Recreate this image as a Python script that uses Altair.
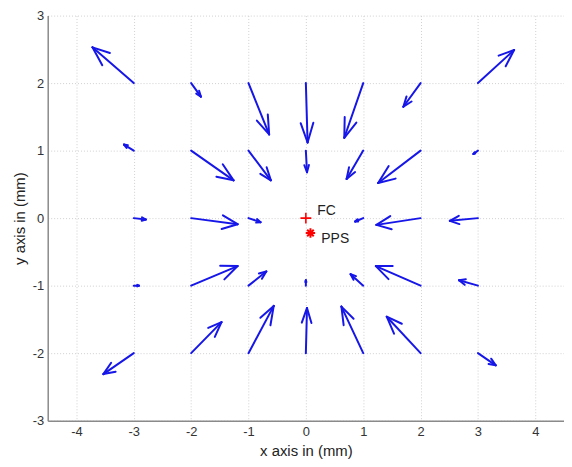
import altair as alt
import pandas as pd

# grid of arrow origins
grid_x = [-3, -2, -1, 0, 1, 2, 3]
grid_y = [2, 1, 0, -1, -2]

# arrow components (mm), one row per grid_y value, columns follow grid_x
u_rows = [
    [-0.72, 0.17, 0.36, 0.03, -0.33, -0.30, 0.63],
    [-0.17, 0.74, 0.39, 0.02, -0.29, -0.74, -0.08],
    [0.21, 0.81, 0.21, 0.00, -0.14, -0.77, -0.49],
    [0.09, 0.81, 0.31, 0.00, -0.22, -0.78, -0.33],
    [-0.53, 0.53, 0.44, 0.02, -0.38, -0.59, 0.31],
]
v_rows = [
    [0.53, -0.20, -0.76, -0.88, -0.81, -0.35, 0.49],
    [0.09, -0.44, -0.44, -0.32, -0.42, -0.48, -0.05],
    [-0.02, -0.09, -0.06, 0.00, -0.05, -0.10, -0.04],
    [0.00, 0.29, 0.21, 0.08, 0.17, 0.29, 0.08],
    [-0.31, 0.46, 0.70, 0.67, 0.69, 0.54, -0.18],
]

# special points
pt_names = ["FC", "PPS"]
pt_x = [0.0, 0.08]
pt_y = [0.0, -0.22]
lbl_x = [0.2, 0.27]
lbl_y = [0.11, -0.31]

x_ticks = [-4, -3, -2, -1, 0, 1, 2, 3, 4]
y_ticks = [-3, -2, -1, 0, 1, 2, 3]

rows = []
for j, gy in enumerate(grid_y):
    for i, gx in enumerate(grid_x):
        rows.append({"x": gx, "y": gy, "u": u_rows[j][i], "v": v_rows[j][i]})
arrows = pd.DataFrame(rows)
pts = pd.DataFrame({"name": pt_names, "px": pt_x, "py": pt_y, "lx": lbl_x, "ly": lbl_y})

A = 0.33  # head length relative to vector
B = 0.38  # head half-width relative to vector

xsc = alt.Scale(domain=[-4.5, 4.5], nice=False, zero=False)
ysc = alt.Scale(domain=[-3, 3], nice=False, zero=False)

xax = alt.Axis(values=x_ticks, title="x axis in (mm)", labelExpr="toString(datum.value)")
yax = alt.Axis(values=y_ticks, title="y axis in (mm)", labelExpr="toString(datum.value)")

blue = "#1616e8"

base = (
    alt.Chart(arrows)
    .transform_filter("datum.u != 0 || datum.v != 0")
    .transform_calculate(
        xe="datum.x + datum.u",
        ye="datum.y + datum.v",
    )
    .transform_calculate(
        h1x=f"datum.xe - {A}*(datum.u + {B}*datum.v)",
        h1y=f"datum.ye - {A}*(datum.v - {B}*datum.u)",
        h2x=f"datum.xe - {A}*(datum.u - {B}*datum.v)",
        h2y=f"datum.ye - {A}*(datum.v + {B}*datum.u)",
    )
)

shaft = base.mark_rule(color=blue, strokeWidth=2, strokeCap="round").encode(
    x=alt.X("x:Q", scale=xsc, axis=xax),
    y=alt.Y("y:Q", scale=ysc, axis=yax),
    x2="xe:Q",
    y2="ye:Q",
)
barb1 = base.mark_rule(color=blue, strokeWidth=2, strokeCap="round").encode(
    x=alt.X("xe:Q", scale=xsc), y=alt.Y("ye:Q", scale=ysc), x2="h1x:Q", y2="h1y:Q"
)
barb2 = base.mark_rule(color=blue, strokeWidth=2, strokeCap="round").encode(
    x=alt.X("xe:Q", scale=xsc), y=alt.Y("ye:Q", scale=ysc), x2="h2x:Q", y2="h2y:Q"
)

pbase = alt.Chart(pts)
fc = pbase.transform_filter("datum.name == 'FC'").mark_point(
    shape="M-1,0L1,0M0,-1L0,1", size=120, filled=False, color="red", strokeWidth=1.6, opacity=1
).encode(x=alt.X("px:Q", scale=xsc), y=alt.Y("py:Q", scale=ysc))
pps = pbase.transform_filter("datum.name == 'PPS'").mark_point(
    shape="M-1,0L1,0M0,-1L0,1M-0.7,-0.7L0.7,0.7M-0.7,0.7L0.7,-0.7",
    size=90, filled=False, color="red", strokeWidth=2, opacity=1,
).encode(x=alt.X("px:Q", scale=xsc), y=alt.Y("py:Q", scale=ysc))
labels = pbase.mark_text(
    align="left", baseline="middle", fontSize=14, font="Liberation Sans", color="#222"
).encode(x=alt.X("lx:Q", scale=xsc), y=alt.Y("ly:Q", scale=ysc), text="name:N")

chart = (
    alt.layer(shaft, barb1, barb2, fc, pps, labels)
    .properties(
        width=520,
        height=408,
        autosize=alt.AutoSizeParams(type="none"),
        padding={"left": 40, "top": 6, "right": 0, "bottom": 44},
        background="white",
    )
    .configure_view(stroke=None)
    .configure_axis(
        grid=True,
        gridColor="#d0d0d0",
        gridDash=[1, 2],
        gridWidth=1,
        domainColor="#8a8a8a",
        domainWidth=1.5,
        ticks=False,
        labelFont="Liberation Sans",
        labelFontSize=13,
        labelColor="#333",
        titleFont="Liberation Sans",
        titleFontSize=15,
        titleFontWeight="normal",
        titleColor="#222",
    )
    .configure_axisX(labelPadding=5, titlePadding=5)
    .configure_axisY(labelPadding=4, titlePadding=5)
)

chart.save("out.html", embed_options={"renderer": "svg", "actions": False})
